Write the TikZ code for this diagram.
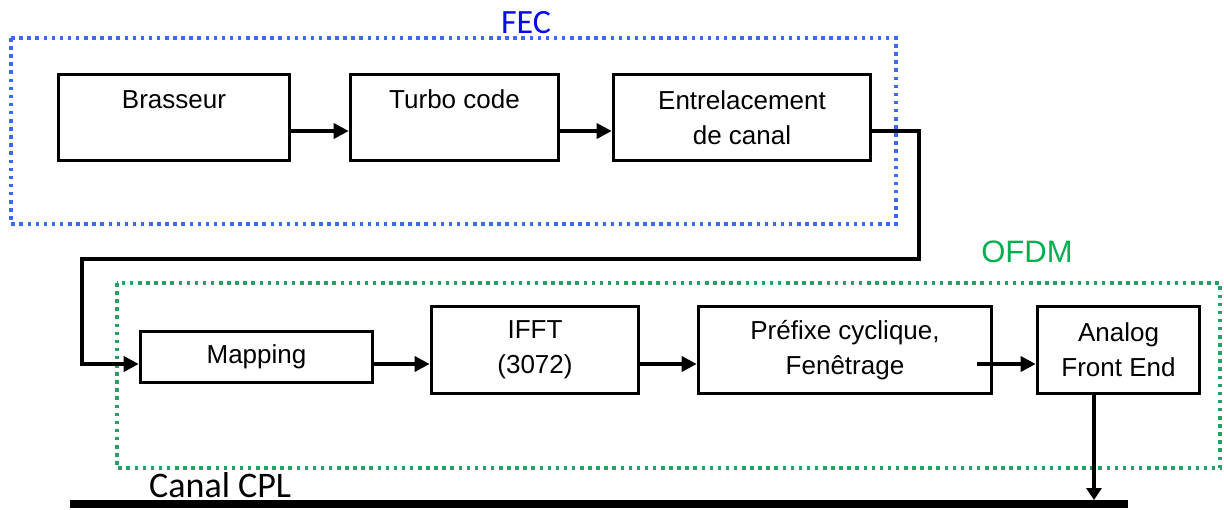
\documentclass[tikz,border=0pt]{standalone}
\usepackage{fontspec}
\setmainfont{Liberation Sans}
\newfontfamily\calibrifont{Carlito}
\usetikzlibrary{arrows.meta}
\definecolor{fecblue}{RGB}{60,105,250}
\definecolor{fectext}{RGB}{10,10,240}
\definecolor{ofdmgreen}{RGB}{40,160,100}
\definecolor{ofdmtext}{RGB}{0,176,80}
\tikzset{
  blk/.style={draw=black, line width=3.6pt, inner sep=0pt, align=center,
              font=\fontsize{26}{35}\selectfont},
  lbl/.style={inner sep=0pt, anchor=base, font=\fontsize{26}{35}\selectfont},
  flow/.style={line width=3.4pt, -{Triangle[length=15pt,width=15pt]}},
  grpbox/.style={line width=3.5pt, dash pattern=on 3.5pt off 4.6pt},
}
\begin{document}
\begin{tikzpicture}[x=1pt,y=-1pt]
\useasboundingbox (0,0) rectangle (1224,509);

% dotted group frames and their titles
\draw[grpbox, fecblue] (11,38) rectangle (896,224);
\draw[grpbox, ofdmgreen] (117,283) rectangle (1220,468);
\node[font=\calibrifont\fontsize{34}{34}\selectfont, text=fectext, anchor=base, inner sep=0pt] (fec) at (526,33) {FEC};
\node[font=\fontsize{31}{31}\selectfont, text=ofdmtext, anchor=base, inner sep=0pt] (ofdm) at (1027,262) {OFDM};

% reference rows for the connectors
\coordinate (rowA) at (0,131);
\coordinate (rowB) at (0,364);
\coordinate (rowT) at (0,108);

% FEC chain
\node[blk, minimum width=231pt, minimum height=86pt] (bra) at (174,117.5) {};
\node[lbl] (braT) at (bra.center |- rowT) {Brasseur};
\node[blk, minimum width=208pt, minimum height=86pt] (tur) at (454.5,117.5) {};
\node[lbl] (turT) at (tur.center |- rowT) {Turbo code};
\node[blk, minimum width=257pt, minimum height=86pt] (ent) at (742,117.5) {Entrelacement\\de canal};

% OFDM chain
\node[blk, minimum width=232pt, minimum height=51pt] (map) at (256.5,357) {Mapping};
\node[blk, minimum width=207pt, minimum height=87pt] (ifft) at (535,350) {IFFT\\(3072)};
\node[blk, minimum width=293pt, minimum height=87pt] (pref) at (845,350) {Préfixe cyclique,\\Fenêtrage};
\node[blk, minimum width=162pt, minimum height=87pt] (afe) at (1118.5,350) {Analog\\Front End};

% power line channel
\coordinate (cplL) at (70,504);
\coordinate (cplR) at (1128,504);
\draw[line width=8pt] (cplL) -- (cplR);
\node[font=\calibrifont\fontsize{36}{36}\selectfont, anchor=base west, inner sep=0pt] (cplT) at (149,497) {Canal CPL};

% connectors
\draw[flow] (bra.east |- rowA) -- (tur.west |- rowA);
\draw[flow] (tur.east |- rowA) -- (ent.west |- rowA);
\coordinate (c1) at (919,259);
\coordinate (c2) at (82,364);
\draw[flow, line width=4pt] (ent.east |- rowA) -| (c1) -| (c2) -- (map.west |- rowB);
\draw[flow] (map.east |- rowB) -- (ifft.west |- rowB);
\draw[flow] (ifft.east |- rowB) -- (pref.west |- rowB);
\draw[flow] ([xshift=-16pt]pref.east |- rowB) -- (afe.west |- rowB);
\coordinate (drop) at (1094,0);
\draw[line width=3.4pt, -{Triangle[length=12pt,width=15pt]}] (afe.south -| drop) -- ([yshift=4pt]cplL -| drop);
\end{tikzpicture}
\end{document}
